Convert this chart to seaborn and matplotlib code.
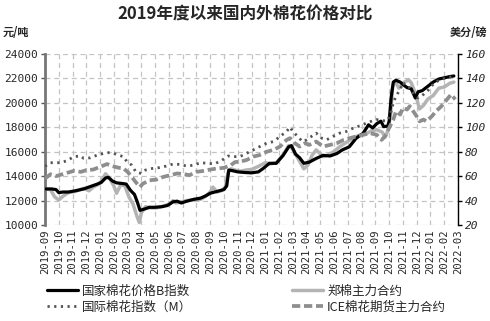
import numpy as np
import pandas as pd
import matplotlib
matplotlib.use("Agg")
import matplotlib.pyplot as plt
import seaborn as sns

# ---------------- data ----------------
tick_labels = ["2019-09", "2019-10", "2019-11", "2019-12", "2020-01", "2020-02", "2020-03",
               "2020-04", "2020-05", "2020-06", "2020-07", "2020-08", "2020-09", "2020-10",
               "2020-11", "2020-12", "2021-01", "2021-02", "2021-03", "2021-04", "2021-05",
               "2021-06", "2021-07", "2021-08", "2021-09", "2021-10", "2021-11", "2021-12",
               "2022-01", "2022-02", "2022-03"]

# months since 2019-09
cc_t = [0.0, 0.5, 0.8, 1.0, 1.3, 1.7, 2.2, 2.8, 3.3, 3.8, 4.1, 4.4, 4.6, 4.9, 5.2, 5.6, 5.9,
        6.2, 6.5, 6.7, 6.9, 7.2, 7.6, 8.0, 8.5, 8.9, 9.3, 9.6, 9.9, 10.3, 10.8, 11.3, 11.7,
        12.0, 12.5, 13.0, 13.2, 13.35, 13.6, 14.0, 14.5, 15.0, 15.5, 15.85, 16.3, 16.8, 17.3,
        17.7, 17.9, 18.2, 18.5, 18.8, 19.2, 19.7, 20.2, 20.7, 21.2, 21.6, 22.1, 22.6, 23.1,
        23.5, 23.8, 24.1, 24.4, 24.6, 24.9, 25.0, 25.15, 25.3, 25.5, 25.8, 26.0, 26.3, 26.6,
        26.9, 27.1, 27.4, 27.8, 28.2, 28.6, 29.0, 29.4, 29.7]
cc_index = [12950, 12950, 12900, 12650, 12700, 12700, 12800, 12950, 13150, 13350, 13500,
            13850, 13900, 13600, 13450, 13400, 13350, 12850, 12500, 11900, 11200, 11300,
            11450, 11450, 11500, 11600, 11900, 11950, 11800, 11950, 12100, 12200, 12400,
            12600, 12750, 12900, 13200, 14500, 14450, 14350, 14300, 14270, 14350, 14630,
            15050, 15050, 15700, 16400, 16500, 15800, 15500, 15050, 15150, 15450, 15700,
            15650, 15850, 16150, 16400, 17100, 17500, 18200, 17950, 18300, 18500, 18050,
            18100, 18500, 20500, 21700, 21850, 21700, 21500, 21250, 21150, 20400, 20900,
            21000, 21350, 21700, 21950, 22050, 22150, 22200]

zce_t = [0.0, 0.4, 0.7, 1.0, 1.3, 1.7, 2.2, 2.8, 3.2, 3.5, 4.0, 4.4, 4.7, 5.0, 5.2, 5.5, 5.8,
         6.1, 6.4, 6.65, 6.85, 7.0, 7.3, 7.7, 8.1, 8.6, 9.1, 9.3, 9.5, 9.9, 10.3, 10.8, 11.3,
         11.6, 12.0, 12.2, 12.5, 12.8, 13.1, 13.3, 13.5, 13.8, 14.2, 14.6, 15.0, 15.5, 16.0,
         16.4, 16.8, 17.3, 17.7, 18.0, 18.3, 18.8, 19.1, 19.4, 19.7, 20.2, 20.5, 20.9, 21.4,
         21.8, 22.2, 22.7, 23.2, 23.7, 24.1, 24.5, 24.7, 24.9, 25.1, 25.25, 25.45, 25.7, 26.0,
         26.4, 26.6, 26.9, 27.2, 27.5, 27.8, 28.2, 28.6, 29.0, 29.4, 29.7]
zce_main = [12950, 12900, 12300, 12050, 12350, 12650, 12750, 13000, 12800, 13100, 13400,
            14200, 13800, 13200, 12600, 13300, 13200, 12300, 11700, 10800, 10200, 11000,
            11500, 11400, 11400, 11550, 11750, 12000, 11800, 11900, 12000, 12050, 12100,
            12300, 12700, 13100, 12700, 12800, 13100, 14300, 14600, 14500, 14400, 14500,
            14550, 14800, 15100, 15000, 15100, 15750, 16500, 16200, 15600, 14600, 14900,
            15700, 16150, 15600, 15700, 15950, 16400, 16700, 17000, 17300, 17400, 17700,
            17800, 17600, 17200, 17700, 19000, 21300, 21800, 21200, 21600, 21900, 21650,
            20800, 19500, 19800, 20300, 20600, 21200, 21300, 21600, 21700]

m_t = [0.0, 0.4, 1.1, 1.6, 2.1, 2.6, 2.8, 3.3, 3.8, 4.3, 4.6, 5.0, 5.3, 5.7, 5.95, 6.3, 6.6,
       7.0, 7.3, 7.8, 8.3, 8.8, 9.3, 9.8, 10.3, 10.8, 11.3, 11.8, 12.3, 12.8, 13.3, 13.8,
       14.16, 14.64, 15.13, 15.6, 16.1, 16.6, 17.07, 17.55, 17.8, 18.0, 18.35, 18.7, 19.0,
       19.35, 19.7, 20.1, 20.45, 20.9, 21.4, 21.9, 22.4, 22.9, 23.36, 23.7, 24.1, 24.45,
       24.8, 25.05, 25.3, 25.5, 25.8, 26.0, 26.2, 26.5, 26.8, 27.1, 27.4, 27.8, 28.3, 28.8,
       29.3, 29.7]
m_index = [68, 71, 71, 72.6, 76, 76.5, 74.6, 75, 77.3, 78.7, 79.2, 78.7, 77.3, 76, 71.8, 69,
           63.5, 62.2, 65, 66.3, 67, 68.2, 69.9, 69.6, 68.2, 69, 71, 70.5, 70, 72.6, 76.5, 76,
           76, 78.7, 81.5, 84.2, 87, 88.3, 92.5, 96.6, 100.2, 96.6, 92.5, 88.3, 89.7, 92.5,
           95.2, 91.1, 89.7, 92.5, 95.2, 96.6, 99.4, 101.3, 103.5, 104.9, 106.3, 105.7, 104.9,
           109, 120, 125.6, 131, 136.6, 134, 132.4, 127, 124, 126, 130, 136.6, 139.3, 140.7, 142]

ice_t = [0.0, 0.4, 0.8, 1.1, 1.6, 2.1, 2.6, 3.0, 3.5, 4.0, 4.5, 4.9, 5.3, 5.7, 6.0, 6.3, 6.6,
         6.9, 7.1, 7.6, 8.1, 8.6, 9.1, 9.6, 10.1, 10.5, 11.0, 11.5, 12.0, 12.5, 13.0, 13.5,
         13.8, 14.16, 14.64, 15.13, 15.6, 16.1, 16.6, 17.07, 17.55, 17.8, 18.15, 18.5, 18.9,
         19.2, 19.7, 20.2, 20.7, 21.2, 21.7, 22.15, 22.6, 23.1, 23.6, 24.1, 24.45, 24.7,
         25.05, 25.3, 25.5, 25.8, 26.0, 26.3, 26.5, 26.75, 27.0, 27.2, 27.5, 27.7, 28.1, 28.4,
         28.8, 29.2, 29.5, 29.8]
ice_main = [58, 61.5, 60, 61, 62.7, 64.3, 63.5, 64.9, 65.4, 67.6, 69.9, 68.2, 67, 66.3, 63.5,
            59.4, 55, 51.1, 53.8, 56.6, 57.2, 59.4, 60.8, 62.2, 61.6, 60.8, 63.5, 64.3, 65.4,
            66.3, 66.8, 69, 71.5, 71.8, 73.2, 76, 77.3, 80, 81.5, 84.2, 89.7, 91.1, 87, 84.2,
            87, 85.6, 88.3, 84.2, 85.6, 87, 89.7, 91.1, 92.5, 93.9, 95.2, 93.9, 89.7, 92.5,
            100.7, 106.3, 113.1, 110.4, 115.9, 114.5, 117.3, 113.1, 109, 104.9, 106.3, 104.9,
            109, 113.1, 117.3, 122.8, 126.9, 122.8]

# ---------------- style ----------------
sns.set_style("white")
plt.rcParams['font.family'] = ['Noto Sans CJK SC', 'DejaVu Sans']
plt.rcParams['axes.unicode_minus'] = False

fig = plt.figure(figsize=(4.9, 3.21), dpi=100)
ax = fig.add_axes([45/490, 1-225/321, (458-45)/490, (225-54)/321])
ax2 = ax.twinx()

df_cc = pd.DataFrame({"t": cc_t, "v": cc_index})
df_zce = pd.DataFrame({"t": zce_t, "v": zce_main})
df_m = pd.DataFrame({"t": m_t, "v": m_index})
df_ice = pd.DataFrame({"t": ice_t, "v": ice_main})

sns.lineplot(data=df_zce, x="t", y="v", ax=ax, color="#b4b4b4", lw=2.5, zorder=3)
sns.lineplot(data=df_cc, x="t", y="v", ax=ax, color="#000000", lw=2.3, zorder=4)
sns.lineplot(data=df_ice, x="t", y="v", ax=ax2, color="#8e8e8e", lw=2.7,
             linestyle=(0, (2.2, 1.0)), zorder=3)
sns.lineplot(data=df_m, x="t", y="v", ax=ax2, color="#555555", lw=2.0,
             linestyle=(0, (0.8, 1.6)), zorder=3)

ax.set_xlim(0, 30)
ax.set_ylim(10000, 24000)
ax2.set_ylim(20, 160)
ax.set_xticks(range(len(tick_labels)))
ax.set_xticklabels(tick_labels, rotation=90, fontsize=7.6, family="DejaVu Sans Mono")
ax.set_yticks(range(10000, 24001, 2000))
ax.set_yticklabels([str(v) for v in range(10000, 24001, 2000)], fontsize=8,
                   family="DejaVu Sans Mono")
ax2.set_yticks(range(20, 161, 20))
ax2.set_yticklabels([str(v) for v in range(20, 161, 20)], fontsize=8,
                    family="DejaVu Sans Mono", style="italic")
ax.set_xlabel("")
ax.set_ylabel("")
ax2.set_ylabel("")

ax.grid(True, color="#c4c4c4", linestyle=(0, (4, 3)), lw=0.9)
ax.set_axisbelow(True)
for s in ["top", "bottom"]:
    ax.spines[s].set_visible(False)
    ax2.spines[s].set_visible(False)
ax.spines["right"].set_visible(False)
ax2.spines["left"].set_visible(False)
ax.spines["left"].set_color("#777777")
ax.spines["left"].set_linewidth(2)
ax2.spines["right"].set_color("#000000")
ax2.spines["right"].set_linewidth(1)
ax.tick_params(axis="y", length=3, width=1, color="#555555", pad=2)
ax.tick_params(axis="x", length=0, pad=3)
ax2.tick_params(axis="y", length=3, width=1, color="#000000", pad=2)

fig.text(0.5, 1-15/321, "2019年度以来国内外棉花价格对比", ha="center", va="center",
         fontsize=12, fontweight="bold")
fig.text(3/490, 1-33/321, "元/吨", ha="left", va="center", fontsize=8, fontweight="bold")
fig.text(487/490, 1-33/321, "美分/磅", ha="right", va="center", fontsize=8, fontweight="bold")

from matplotlib.lines import Line2D
handles = [Line2D([], [], color="#000000", lw=2.3),
           Line2D([], [], color="#555555", lw=2.0, linestyle=(0, (0.8, 1.6))),
           Line2D([], [], color="#b4b4b4", lw=2.5),
           Line2D([], [], color="#8e8e8e", lw=2.7, linestyle=(0, (2.2, 1.0)))]
labels = ["国家棉花价格B指数", "国际棉花指数（M）", "郑棉主力合约", "ICE棉花期货主力合约"]
fig.legend(handles, labels, ncol=2, loc="center left", bbox_to_anchor=(42/490, 1-299/321),
           frameon=False, fontsize=9, handlelength=2.5, handletextpad=0.3,
           columnspacing=8.0, labelspacing=0.25, borderaxespad=0)

fig.savefig("out.png", dpi=100)
